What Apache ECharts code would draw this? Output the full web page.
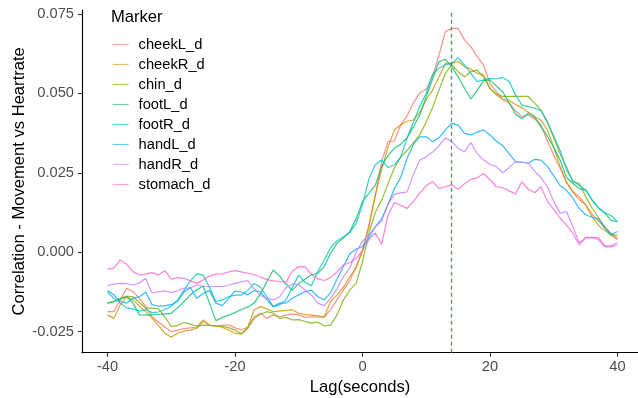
<!DOCTYPE html>
<html>
<head>
<meta charset="utf-8">
<script src="https://cdn.jsdelivr.net/npm/echarts@6/dist/echarts.min.js"></script>
<style>
html,body{margin:0;padding:0;background:#fff;}
#chart{width:638px;height:398px;}
</style>
</head>
<body>
<div id="chart"></div>
<script>
const lags = [-40,-39,-38,-37,-36,-35,-34,-33,-32,-31,-30,-29,-28,-27,-26,-25,-24,-23,-22,-21,
  -20,-19,-18,-17,-16,-15,-14,-13,-12,-11,-10,-9,-8,-7,-6,-5,-4,-3,-2,-1,0,
  1,2,3,4,5,6,7,8,9,10,11,12,13,14,15,16,17,18,19,20,21,22,23,24,25,26,27,28,29,30,
  31,32,33,34,35,36,37,38,39,40];

const seriesNames = ['cheekL_d','cheekR_d','chin_d','footL_d','footR_d','handL_d','handR_d','stomach_d'];
const seriesColors = ['#F8766D','#CD9600','#7CAE00','#00BE67','#00BFC4','#00A9FF','#C77CFF','#FF61CC'];

const cheekL_d = [
 -0.0187,-0.0187,-0.0150,-0.0113,-0.0124,-0.0145,-0.0171,-0.0203,-0.0220,-0.0235,
 -0.0250,-0.0245,-0.0240,-0.0238,-0.0236,-0.0213,-0.0230,-0.0232,-0.0230,-0.0228,
 -0.0238,-0.0244,-0.0236,-0.0203,-0.0192,-0.0208,-0.0197,-0.0203,-0.0198,-0.0194,
 -0.0197,-0.0205,-0.0203,-0.0203,-0.0205,-0.0180,-0.0150,-0.0119,-0.0090,-0.0045,
 0.0005,
 0.0085,0.0175,0.0285,0.0348,0.0350,0.0400,0.0430,0.0470,0.0502,0.0513,
 0.0555,0.0620,0.0694,0.0704,0.0704,0.0668,0.0647,0.0615,0.0588,0.0531,
 0.0505,0.0479,0.0470,0.0445,0.0426,0.0432,0.0420,0.0400,0.0350,0.0305,
 0.0265,0.0220,0.0190,0.0165,0.0150,0.0120,0.0098,0.0080,0.0060,0.0044];

const cheekR_d = [
 -0.0197,-0.0208,-0.0166,-0.0140,-0.0150,-0.0170,-0.0187,-0.0208,-0.0230,-0.0255,
 -0.0267,-0.0255,-0.0248,-0.0245,-0.0239,-0.0218,-0.0229,-0.0232,-0.0236,-0.0245,
 -0.0255,-0.0257,-0.0236,-0.0181,-0.0171,-0.0178,-0.0187,-0.0185,-0.0183,-0.0181,
 -0.0192,-0.0196,-0.0198,-0.0200,-0.0203,-0.0155,-0.0135,-0.0110,-0.0077,-0.0050,
 0.0005,
 0.0080,0.0180,0.0260,0.0330,0.0385,0.0400,0.0412,0.0416,0.0440,0.0480,
 0.0510,0.0552,0.0594,0.0594,0.0600,0.0584,0.0576,0.0563,0.0558,0.0516,
 0.0495,0.0482,0.0478,0.0465,0.0455,0.0440,0.0426,0.0416,0.0385,0.0330,
 0.0270,0.0220,0.0190,0.0175,0.0149,0.0112,0.0085,0.0068,0.0054,0.0039];

const chin_d = [
 -0.0160,-0.0155,-0.0145,-0.0138,-0.0140,-0.0158,-0.0176,-0.0176,-0.0178,-0.0203,
 -0.0234,-0.0230,-0.0221,-0.0226,-0.0232,-0.0229,-0.0230,-0.0232,-0.0233,-0.0237,
 -0.0245,-0.0257,-0.0240,-0.0208,-0.0195,-0.0187,-0.0192,-0.0208,-0.0205,-0.0213,
 -0.0212,-0.0218,-0.0223,-0.0220,-0.0232,-0.0229,-0.0197,-0.0150,-0.0119,-0.0098,
 -0.0030,
 0.0060,0.0125,0.0164,0.0215,0.0265,0.0300,0.0320,0.0345,0.0370,0.0410,
 0.0455,0.0510,0.0563,0.0589,0.0568,0.0552,0.0568,0.0573,0.0550,0.0515,
 0.0498,0.0490,0.0490,0.0490,0.0490,0.0490,0.0469,0.0447,0.0410,0.0360,
 0.0310,0.0269,0.0222,0.0217,0.0175,0.0140,0.0110,0.0080,0.0054,0.0054];

const footL_d = [
 -0.0160,-0.0155,-0.0148,-0.0140,-0.0160,-0.0197,-0.0198,-0.0196,-0.0195,-0.0194,
 -0.0192,-0.0175,-0.0155,-0.0134,-0.0118,-0.0106,-0.0160,-0.0215,-0.0205,-0.0198,
 -0.0190,-0.0180,-0.0172,-0.0160,-0.0132,-0.0092,-0.0056,-0.0075,-0.0100,-0.0119,
 -0.0098,-0.0085,-0.0071,-0.0066,-0.0045,-0.0003,0.0028,0.0045,0.0065,0.0105,
 0.0160,
 0.0185,0.0210,0.0270,0.0305,0.0327,0.0340,0.0360,0.0395,0.0432,0.0490,
 0.0545,0.0600,0.0607,0.0584,0.0552,0.0516,0.0482,0.0510,0.0540,0.0542,
 0.0523,0.0505,0.0470,0.0435,0.0420,0.0437,0.0426,0.0395,0.0365,0.0330,
 0.0290,0.0235,0.0217,0.0200,0.0196,0.0165,0.0140,0.0123,0.0100,0.0096];

const footR_d = [
 -0.0125,-0.0145,-0.0160,-0.0175,-0.0178,-0.0185,-0.0180,-0.0190,-0.0188,-0.0180,
 -0.0170,-0.0150,-0.0120,-0.0090,-0.0068,-0.0072,-0.0110,-0.0155,-0.0150,-0.0140,
 -0.0135,-0.0135,-0.0120,-0.0098,-0.0110,-0.0140,-0.0171,-0.0165,-0.0150,-0.0110,
 -0.0072,-0.0095,-0.0105,-0.0060,-0.0025,0.0015,0.0036,0.0048,0.0062,0.0090,
 0.0150,
 0.0230,0.0275,0.0290,0.0266,0.0275,0.0300,0.0360,0.0410,0.0460,0.0500,
 0.0560,0.0579,0.0589,0.0594,0.0612,0.0589,0.0563,0.0537,0.0542,0.0547,
 0.0545,0.0550,0.0537,0.0495,0.0463,0.0458,0.0453,0.0445,0.0410,0.0365,
 0.0320,0.0260,0.0225,0.0210,0.0196,0.0165,0.0140,0.0125,0.0115,0.0096];

const handL_d = [
 -0.0120,-0.0134,-0.0155,-0.0160,-0.0145,-0.0140,-0.0125,-0.0165,-0.0170,-0.0168,
 -0.0165,-0.0155,-0.0125,-0.0110,-0.0145,-0.0130,-0.0120,-0.0160,-0.0168,-0.0145,
 -0.0122,-0.0125,-0.0134,-0.0120,-0.0125,-0.0150,-0.0171,-0.0160,-0.0160,-0.0145,
 -0.0134,-0.0124,-0.0119,-0.0140,-0.0150,-0.0127,-0.0085,-0.0045,-0.0005,0.0010,
 0.0018,
 0.0045,0.0080,0.0105,0.0150,0.0200,0.0235,0.0296,0.0340,0.0363,0.0363,
 0.0348,0.0360,0.0385,0.0406,0.0400,0.0374,0.0369,0.0378,0.0385,0.0369,
 0.0350,0.0335,0.0310,0.0285,0.0283,0.0280,0.0292,0.0290,0.0270,0.0240,
 0.0210,0.0195,0.0170,0.0138,0.0118,0.0110,0.0105,0.0075,0.0055,0.0065];

const handR_d = [
 -0.0105,-0.0100,-0.0098,-0.0099,-0.0103,-0.0097,-0.0082,-0.0129,-0.0124,-0.0122,
 -0.0127,-0.0121,-0.0113,-0.0112,-0.0103,-0.0107,-0.0108,-0.0107,-0.0108,-0.0103,
 -0.0098,-0.0093,-0.0089,-0.0115,-0.0136,-0.0145,-0.0150,-0.0140,-0.0112,-0.0100,
 -0.0102,-0.0119,-0.0135,-0.0160,-0.0168,-0.0145,-0.0115,-0.0077,-0.0050,0.0000,
 0.0035,
 0.0055,0.0080,0.0098,0.0150,0.0182,0.0187,0.0190,0.0245,0.0290,0.0300,
 0.0315,0.0335,0.0360,0.0348,0.0327,0.0316,0.0345,0.0310,0.0290,0.0276,
 0.0270,0.0250,0.0266,0.0285,0.0283,0.0280,0.0255,0.0235,0.0206,0.0160,
 0.0123,0.0128,0.0081,0.0030,0.0045,0.0046,0.0040,0.0017,0.0017,0.0022];

const stomach_d = [
 -0.0053,-0.0050,-0.0024,-0.0038,-0.0061,-0.0071,-0.0069,-0.0064,-0.0071,-0.0058,
 -0.0085,-0.0080,-0.0082,-0.0090,-0.0098,-0.0087,-0.0075,-0.0069,-0.0068,-0.0062,
 -0.0058,-0.0062,-0.0066,-0.0070,-0.0078,-0.0086,-0.0090,-0.0092,-0.0094,-0.0060,
 -0.0045,-0.0046,-0.0070,-0.0084,-0.0089,-0.0080,-0.0062,-0.0040,-0.0033,-0.0020,
 0.0005,
 0.0040,0.0060,0.0025,0.0117,0.0156,0.0148,0.0138,0.0160,0.0186,0.0210,
 0.0222,0.0201,0.0206,0.0212,0.0198,0.0215,0.0230,0.0234,0.0248,0.0228,
 0.0206,0.0203,0.0193,0.0183,0.0222,0.0198,0.0187,0.0206,0.0160,0.0135,
 0.0107,0.0085,0.0060,0.0023,0.0047,0.0047,0.0046,0.0020,0.0020,0.0030];

const seriesValues = [cheekL_d, cheekR_d, chin_d, footL_d, footR_d, handL_d, handR_d, stomach_d];

const xTicks = [-40, -20, 0, 20, 40];
const yTicks = [-0.025, 0, 0.025, 0.05, 0.075];
const peakLag = 14;
const legendTitle = 'Marker';
const xTitle = 'Lag(seconds)';
const yTitle = 'Correlation - Movement vs Heartrate';

const FONT = 'Liberation Sans, Arial, Helvetica, sans-serif';

const chart = echarts.init(document.getElementById('chart'), null, {renderer: 'canvas'});

const series = seriesNames.map((name, i) => {
  const s = {
    name: name,
    type: 'line',
    data: lags.map((l, j) => [l, seriesValues[i][j]]),
    symbol: 'none',
    showSymbol: false,
    clip: true,
    lineStyle: {width: 1.2, color: seriesColors[i], opacity: 0.8},
    itemStyle: {color: seriesColors[i], opacity: 0.8},
    emphasis: {disabled: true},
    z: 2
  };
  if (i === seriesNames.length - 1) {
    s.markLine = {
      silent: true,
      symbol: 'none',
      label: {show: false},
      lineStyle: {color: '#558C5E', type: [4, 3], width: 1.4, opacity: 0.9},
      data: [{xAxis: peakLag}],
      z: 5
    };
  }
  return s;
});

chart.setOption({
  animation: false,
  backgroundColor: '#ffffff',
  color: seriesColors,
  grid: {left: 82, right: 0, top: 10, bottom: 45.3, containLabel: false, outerBoundsMode: 'none'},
  xAxis: {
    type: 'value',
    min: -44,
    max: 43.22,
    name: xTitle,
    nameLocation: 'middle',
    nameGap: 26,
    nameMoveOverlap: false,
    nameTextStyle: {fontFamily: FONT, fontSize: 16.6, color: '#000'},
    axisLine: {show: true, onZero: false, lineStyle: {color: '#000', width: 1.1}},
    axisTick: {show: true, length: 4, customValues: xTicks, lineStyle: {color: '#333', width: 1.1}},
    axisLabel: {show: true, customValues: xTicks, margin: 7, fontFamily: FONT, fontSize: 14.7, color: '#4D4D4D',
      formatter: v => String(v)},
    splitLine: {show: false}
  },
  yAxis: {
    type: 'value',
    min: -0.0316,
    max: 0.0762,
    name: yTitle,
    nameLocation: 'middle',
    nameGap: 54,
    nameRotate: 90,
    nameMoveOverlap: false,
    nameTextStyle: {fontFamily: FONT, fontSize: 16.6, color: '#000'},
    axisLine: {show: true, onZero: false, lineStyle: {color: '#000', width: 1.1}},
    axisTick: {show: true, length: 4, customValues: yTicks, lineStyle: {color: '#333', width: 1.1}},
    axisLabel: {show: true, customValues: yTicks, margin: 8, fontFamily: FONT, fontSize: 14.7, color: '#4D4D4D',
      formatter: v => Number(v).toFixed(3)},
    splitLine: {show: false}
  },
  legend: {
    show: true,
    orient: 'vertical',
    left: 112,
    top: 37,
    padding: 0,
    itemWidth: 16,
    itemHeight: 14,
    itemGap: 5,
    selectedMode: false,
    data: seriesNames,
    itemStyle: {opacity: 0},
    lineStyle: {width: 1.2, opacity: 0.6},
    textStyle: {fontFamily: FONT, fontSize: 14.7, color: '#000', padding: [0, 0, 0, 5]}
  },
  graphic: [{
    type: 'text',
    left: 111,
    top: 9,
    style: {text: legendTitle, fontFamily: FONT, fontSize: 16.6, fill: '#000'}
  }],
  series: series
});
</script>
</body>
</html>
